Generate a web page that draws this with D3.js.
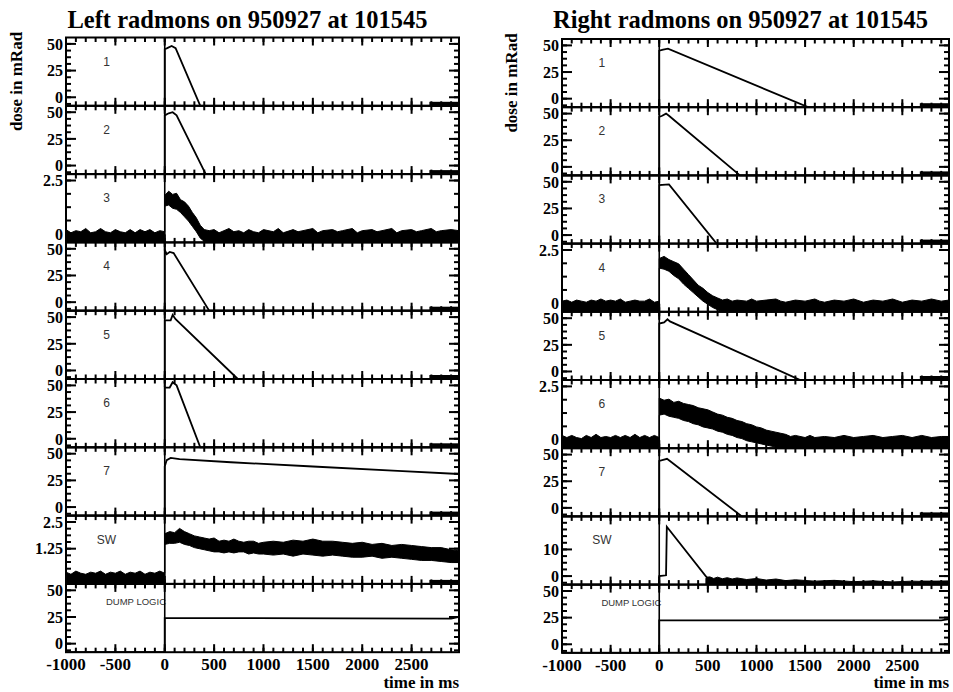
<!DOCTYPE html>
<html>
<head>
<meta charset="utf-8">
<script src="https://cdn.jsdelivr.net/npm/d3@7"></script>
<style>
  body { margin: 0; background: #fff; }
  svg { display: block; }
  line.tk { stroke: #000; stroke-width: 2px; }
</style>
</head>
<body>
<svg id="chart" width="953" height="692"></svg>
<script>
// panel names and time axis
const panelNames = ['1', '2', '3', '4', '5', '6', '7', 'SW', 'DUMP LOGIC'];
const timeDomain = [-1000, 2980];
const timeLabels = [-1000, -500, 0, 500, 1000, 1500, 2000, 2500];
const tailRange = [2680, 2980];

// y axes, left column
const leftMax = [50, 50, 2.5, 50, 50, 50, 50, 2.5, 50];
const leftTickLabels = [[0, 25, 50], [0, 25, 50], [0, 2.5], [0, 25, 50], [0, 25, 50], [0, 25, 50], [0, 25, 50], [1.25, 2.5], [0, 25, 50]];
const leftMinorStep = [6.25, 6.25, 0.625, 6.25, 6.25, 6.25, 6.25, 0.3125, 6.25];

// y axes, right column
const rightMax = [50, 50, 50, 2.5, 50, 2.5, 50, 20, 50];
const rightTickLabels = [[0, 25, 50], [0, 25, 50], [0, 25, 50], [0, 2.5], [0, 25, 50], [0, 2.5], [0, 25, 50], [0, 10], [0, 25, 50]];
const rightMinorStep = [6.25, 6.25, 6.25, 0.625, 6.25, 0.625, 6.25, 2.5, 6.25];

// traces [time ms, dose] -- values under the axis floor get clamped to the frame
const left1 = [[-1000, -10], [0, -10], [0, 45], [25, 46], [70, 48], [110, 46], [360, -8], [2980, -10]];
const left2 = [[-1000, -10], [0, -10], [0, 47], [40, 49], [80, 50], [120, 47], [415, -8], [2980, -10]];
const left4 = [[-1000, -10], [0, -10], [0, 49], [20, 45], [50, 47], [90, 46], [450, -8], [2980, -10]];
const left5 = [[-1000, -10], [0, -10], [0, 47], [60, 47], [80, 52], [110, 48], [740, -8], [2980, -10]];
const left6 = [[-1000, -10], [0, -10], [0, 48], [50, 48], [80, 53], [120, 50], [360, -8], [2980, -10]];
const left7 = [[-1000, -10], [0, -10], [0, 38], [20, 44], [60, 46], [150, 45], [670, 42], [1500, 38], [2360, 34], [2980, 31]];
const left9 = [[-1000, -10], [0, -10], [0, 24], [2900, 23.5], [2980, 25]];

const right1 = [[-1000, -10], [0, -10], [0, 45], [40, 46], [90, 47], [1530, -8], [2980, -10]];
const right2 = [[-1000, -10], [0, -10], [0, 47], [30, 48], [70, 50], [100, 48], [830, -8], [2980, -10]];
const right3 = [[-1000, -10], [0, -10], [0, 47], [100, 47.5], [590, -8], [2980, -10]];
const right5 = [[-1000, -10], [0, -10], [0, 45], [50, 46], [85, 49], [110, 47], [1450, -8], [2980, -10]];
const right7 = [[-1000, -10], [0, -10], [0, 44], [40, 45], [80, 46], [850, -8], [2980, -10]];
const right8 = [[-1000, -4], [0, -4], [0, 0], [70, 0.3], [78, 18.5], [500, -1], [540, -2]];
const right9 = [[-1000, -10], [0, -10], [0, 22.5], [2900, 22.5], [2980, 23.5]];

// noisy traces as bands [time ms, low, high]
const left3Band = [
  [-1000, -0.4, 0.2], [-950, -0.4, 0.05], [-900, -0.4, 0.15], [-850, -0.4, 0.1], [-800, -0.4, 0.25],
  [-750, -0.4, 0.05], [-700, -0.4, 0.1], [-650, -0.4, 0.25], [-600, -0.4, 0.1], [-550, -0.4, 0.05],
  [-500, -0.4, 0.2], [-450, -0.4, 0.1], [-400, -0.4, 0.05], [-350, -0.4, 0.2], [-300, -0.4, 0.05],
  [-250, -0.4, 0.2], [-200, -0.4, 0.1], [-150, -0.4, 0.2], [-100, -0.4, 0.05], [-50, -0.4, 0.15], [0, -0.4, 0.1],
  [0, 1.3, 1.8], [40, 1.35, 2.0], [80, 1.2, 1.85], [120, 1.15, 1.9], [160, 1.0, 1.6], [200, 0.8, 1.5],
  [240, 0.6, 1.3], [280, 0.35, 1.0], [320, 0.1, 0.75], [360, -0.2, 0.4], [400, -0.35, 0.2], [450, -0.4, 0.15],
  [500, -0.4, 0.2], [550, -0.4, 0.05], [600, -0.4, 0.15], [650, -0.4, 0.25], [700, -0.4, 0.1], [750, -0.4, 0.15],
  [800, -0.4, 0.05], [850, -0.4, 0.2], [900, -0.4, 0.1], [950, -0.4, 0.05], [1000, -0.4, 0.2], [1100, -0.4, 0.1],
  [1150, -0.4, 0.25], [1200, -0.4, 0.05], [1300, -0.4, 0.2], [1350, -0.4, 0.1], [1400, -0.4, 0.15], [1500, -0.4, 0.25],
  [1550, -0.4, 0.05], [1600, -0.4, 0.15], [1700, -0.4, 0.2], [1750, -0.4, 0.1], [1800, -0.4, 0.15], [1900, -0.4, 0.25],
  [1950, -0.4, 0.05], [2000, -0.4, 0.15], [2100, -0.4, 0.2], [2150, -0.4, 0.1], [2200, -0.4, 0.15], [2300, -0.4, 0.25],
  [2350, -0.4, 0.05], [2400, -0.4, 0.15], [2500, -0.4, 0.2], [2550, -0.4, 0.1], [2600, -0.4, 0.15], [2700, -0.4, 0.25],
  [2750, -0.4, 0.1], [2800, -0.4, 0.15], [2900, -0.4, 0.2], [2980, -0.4, 0.15]
];
const left8Band = [
  [-1000, -0.4, 0.15], [-950, -0.4, 0.05], [-900, -0.4, 0.2], [-850, -0.4, 0.1], [-800, -0.4, 0.05],
  [-750, -0.4, 0.15], [-700, -0.4, 0.1], [-650, -0.4, 0.2], [-600, -0.4, 0.05], [-550, -0.4, 0.15],
  [-500, -0.4, 0.1], [-450, -0.4, 0.2], [-400, -0.4, 0.05], [-350, -0.4, 0.15], [-300, -0.4, 0.1],
  [-250, -0.4, 0.2], [-200, -0.4, 0.05], [-150, -0.4, 0.15], [-100, -0.4, 0.1], [-50, -0.4, 0.2], [0, -0.4, 0.1],
  [0, 1.45, 1.95], [50, 1.5, 2.05], [100, 1.5, 2.0], [150, 1.55, 2.2], [200, 1.45, 2.05], [250, 1.4, 1.95],
  [300, 1.3, 1.85], [350, 1.25, 1.8], [400, 1.2, 1.75], [450, 1.15, 1.7], [500, 1.1, 1.75], [550, 1.1, 1.6],
  [600, 1.05, 1.65], [650, 1.1, 1.6], [700, 1.05, 1.7], [750, 1.1, 1.6], [800, 1.1, 1.55], [850, 1.0, 1.6],
  [900, 1.05, 1.6], [950, 1.0, 1.5], [1000, 1.0, 1.55], [1100, 0.95, 1.6], [1200, 1.0, 1.55], [1300, 0.9, 1.65],
  [1400, 1.0, 1.6], [1500, 0.95, 1.7], [1600, 0.9, 1.6], [1700, 0.95, 1.6], [1800, 0.9, 1.55], [1900, 0.85, 1.5],
  [2000, 0.85, 1.55], [2100, 0.9, 1.45], [2200, 0.8, 1.5], [2300, 0.85, 1.4], [2400, 0.8, 1.45], [2500, 0.75, 1.4],
  [2600, 0.7, 1.35], [2700, 0.7, 1.3], [2800, 0.65, 1.3], [2900, 0.6, 1.2], [2980, 0.6, 1.15]
];
const right4Band = [
  [-1000, -0.4, 0.1], [-950, -0.4, 0.15], [-900, -0.4, 0.05], [-850, -0.4, 0.15], [-800, -0.4, 0.1],
  [-750, -0.4, 0.05], [-700, -0.4, 0.15], [-650, -0.4, 0.1], [-600, -0.4, 0.2], [-550, -0.4, 0.1],
  [-500, -0.4, 0.15], [-450, -0.4, 0.1], [-400, -0.4, 0.2], [-350, -0.4, 0.05], [-300, -0.4, 0.1],
  [-250, -0.4, 0.15], [-200, -0.4, 0.1], [-150, -0.4, 0.1], [-100, -0.4, 0.2], [-50, -0.4, 0.05], [0, -0.4, 0.1],
  [0, 1.65, 2.1], [50, 1.6, 2.2], [100, 1.5, 2.05], [150, 1.3, 1.95], [200, 1.15, 1.85], [250, 0.9, 1.6],
  [300, 0.7, 1.35], [350, 0.5, 1.1], [400, 0.3, 0.85], [450, 0.1, 0.7], [500, -0.05, 0.5], [550, -0.2, 0.35],
  [600, -0.3, 0.25], [650, -0.4, 0.15], [700, -0.4, 0.2], [750, -0.4, 0.1], [800, -0.4, 0.15], [900, -0.4, 0.1],
  [950, -0.4, 0.2], [1000, -0.4, 0.1], [1100, -0.4, 0.15], [1200, -0.4, 0.2], [1250, -0.4, 0.1], [1300, -0.4, 0.05],
  [1400, -0.4, 0.15], [1500, -0.4, 0.1], [1600, -0.4, 0.2], [1650, -0.4, 0.1], [1700, -0.4, 0.05], [1800, -0.4, 0.15],
  [1900, -0.4, 0.1], [2000, -0.4, 0.2], [2100, -0.4, 0.05], [2200, -0.4, 0.15], [2300, -0.4, 0.1], [2400, -0.4, 0.2],
  [2500, -0.4, 0.05], [2600, -0.4, 0.15], [2700, -0.4, 0.1], [2800, -0.4, 0.2], [2900, -0.4, 0.1], [2980, -0.4, 0.15]
];
const right6Band = [
  [-1000, -0.4, 0.2], [-950, -0.4, 0.1], [-900, -0.4, 0.2], [-850, -0.4, 0.1], [-800, -0.4, 0.05],
  [-750, -0.4, 0.2], [-700, -0.4, 0.1], [-650, -0.4, 0.25], [-600, -0.4, 0.1], [-550, -0.4, 0.15],
  [-500, -0.4, 0.1], [-450, -0.4, 0.2], [-400, -0.4, 0.1], [-350, -0.4, 0.2], [-300, -0.4, 0.1],
  [-250, -0.4, 0.25], [-200, -0.4, 0.1], [-150, -0.4, 0.2], [-100, -0.4, 0.1], [-50, -0.4, 0.2], [0, -0.4, 0.1],
  [0, 1.15, 1.95], [50, 1.2, 1.85], [100, 1.1, 1.9], [150, 1.05, 1.75], [200, 1.0, 1.8], [250, 0.9, 1.7],
  [300, 0.85, 1.65], [350, 0.75, 1.6], [400, 0.7, 1.5], [450, 0.6, 1.45], [500, 0.55, 1.4], [550, 0.5, 1.3],
  [600, 0.4, 1.2], [650, 0.35, 1.15], [700, 0.25, 1.05], [750, 0.2, 1.0], [800, 0.1, 0.9], [850, 0.05, 0.85],
  [900, -0.05, 0.75], [950, -0.1, 0.7], [1000, -0.15, 0.6], [1050, -0.2, 0.55], [1100, -0.25, 0.45],
  [1150, -0.3, 0.4], [1200, -0.35, 0.35], [1250, -0.4, 0.3], [1300, -0.4, 0.25], [1350, -0.4, 0.15], [1400, -0.4, 0.2],
  [1500, -0.4, 0.1], [1550, -0.4, 0.2], [1600, -0.4, 0.1], [1700, -0.4, 0.15], [1800, -0.4, 0.1], [1900, -0.4, 0.2],
  [2000, -0.4, 0.1], [2100, -0.4, 0.15], [2200, -0.4, 0.2], [2300, -0.4, 0.1], [2400, -0.4, 0.15],
  [2500, -0.4, 0.2], [2600, -0.4, 0.1], [2700, -0.4, 0.2], [2800, -0.4, 0.1], [2900, -0.4, 0.15], [2980, -0.4, 0.15]
];
const right8Band = [
  [480, -3.2, -0.8], [520, -3.2, -0.3], [560, -3.2, -0.9], [600, -3.2, -0.4], [650, -3.2, -1.0], [700, -3.2, -0.6],
  [750, -3.2, -1.1], [800, -3.2, -0.7], [900, -3.2, -1.3], [1000, -3.2, -0.9], [1100, -3.2, -1.5], [1200, -3.2, -1.1],
  [1300, -3.2, -1.7], [1400, -3.2, -1.4], [1600, -3.2, -1.9], [1800, -3.2, -1.6], [2000, -3.2, -2.1], [2200, -3.2, -1.8],
  [2400, -3.2, -2.2], [2600, -3.2, -1.9], [2800, -3.2, -2.1], [2980, -3.2, -1.9]
];

const leftTraces = [left1, left2, null, left4, left5, left6, left7, null, left9];
const leftBands = [null, null, left3Band, null, null, null, null, left8Band, null];
const rightTraces = [right1, right2, right3, null, right5, null, right7, right8, right9];
const rightBands = [null, null, null, right4Band, null, right6Band, null, right8Band, null];

const svg = d3.select('#chart');
const serif = '"Liberation Serif", "Times New Roman", serif';

function drawColumn(cfg) {
  const x = d3.scaleLinear().domain(timeDomain).range([cfg.x0, cfg.x1]);
  const panelH = (cfg.bottom - cfg.top) / panelNames.length;
  const col = svg.append('g');

  // title
  col.append('text')
    .attr('x', (cfg.x0 + cfg.x1) / 2 - 15).attr('y', 28)
    .attr('text-anchor', 'middle')
    .style('font-family', serif).style('font-weight', 'bold').style('font-size', '24.5px')
    .text(cfg.title);

  // y axis title
  col.append('text')
    .attr('transform', `translate(${cfg.yTitleX},${cfg.top + 44}) rotate(-90)`)
    .attr('text-anchor', 'middle')
    .style('font-family', serif).style('font-weight', 'bold').style('font-size', '17px')
    .text('dose in mRad');

  const minorX = d3.range(-1000, 2981, 100);
  const majorX = minorX.filter(d => d % 500 === 0);

  panelNames.forEach((name, i) => {
    const top = cfg.top + i * panelH;
    const m = cfg.max[i];
    const y = d3.scaleLinear().domain([-0.16 * m, 1.12 * m]).range([panelH, 0]).clamp(true);
    const g = col.append('g').attr('transform', `translate(0,${top})`);
    const step = cfg.minor[i];
    const minorY = d3.range(Math.ceil(-0.16 * m / step), Math.floor(1.12 * m / step) + 1).map(k => k * step);
    const wide = name.length > 2;

    // panel label
    g.append('text')
      .attr('x', wide ? x(-595) : x(-590))
      .attr('y', wide ? 21 : 28)
      .attr('text-anchor', wide ? 'start' : 'middle')
      .style('font-family', '"Liberation Sans", Arial, sans-serif')
      .style('font-size', wide ? '9.5px' : '12px')
      .style('fill', '#333')
      .text(name);

    // noisy band
    if (cfg.bands[i]) {
      g.append('path')
        .datum(cfg.bands[i])
        .attr('d', d3.area().x(d => x(d[0])).y0(d => y(d[1])).y1(d => y(d[2])))
        .attr('fill', '#000').attr('stroke', '#000').attr('stroke-width', 1);
    }
    // trace
    if (cfg.traces[i]) {
      g.append('path')
        .datum(cfg.traces[i])
        .attr('d', d3.line().x(d => x(d[0])).y(d => y(d[1])))
        .attr('fill', 'none').attr('stroke', '#000').attr('stroke-width', 1.8);
    }
    // dense tail near the end of the record
    if (i < panelNames.length - 1) {
      g.append('rect')
        .attr('x', x(tailRange[0])).attr('y', panelH - 4)
        .attr('width', x(tailRange[1]) - x(tailRange[0])).attr('height', 4)
        .attr('fill', '#000');
    }

    // trigger line at t = 0
    g.append('line')
      .attr('x1', x(0)).attr('x2', x(0)).attr('y1', 0).attr('y2', panelH)
      .attr('stroke', '#000').attr('stroke-width', 1.6);

    // frame
    g.append('rect')
      .attr('x', cfg.x0).attr('y', 0).attr('width', cfg.x1 - cfg.x0).attr('height', panelH)
      .attr('fill', 'none').attr('stroke', '#000').attr('stroke-width', 2);

    // y ticks, pointing inward on both sides
    const ticks = g.append('g');
    [[minorY, 5], [cfg.labels[i], 10]].forEach(([vals, len]) => {
      vals.forEach(v => {
        ticks.append('line').attr('class', 'tk')
          .attr('x1', cfg.x0).attr('x2', cfg.x0 + len).attr('y1', y(v)).attr('y2', y(v));
        ticks.append('line').attr('class', 'tk')
          .attr('x1', cfg.x1).attr('x2', cfg.x1 - len).attr('y1', y(v)).attr('y2', y(v));
      });
    });

    // x ticks on top and bottom edges, pointing inward
    [[minorX, 4.5], [majorX, 8]].forEach(([vals, len]) => {
      vals.forEach(t => {
        ticks.append('line').attr('class', 'tk')
          .attr('x1', x(t)).attr('x2', x(t)).attr('y1', 0).attr('y2', len);
        ticks.append('line').attr('class', 'tk')
          .attr('x1', x(t)).attr('x2', x(t)).attr('y1', panelH).attr('y2', panelH - len);
      });
    });

    // y tick labels
    g.append('g')
      .selectAll('text')
      .data(cfg.labels[i])
      .join('text')
      .attr('x', cfg.x0 - 3)
      .attr('y', d => y(d))
      .attr('dy', '0.36em')
      .attr('text-anchor', 'end')
      .style('font-family', serif).style('font-weight', 'bold').style('font-size', '16px')
      .text(d => d);

    // time labels under the last panel
    if (i === panelNames.length - 1) {
      g.append('g')
        .selectAll('text')
        .data(timeLabels)
        .join('text')
        .attr('x', d => x(d))
        .attr('y', panelH + 18)
        .attr('text-anchor', 'middle')
        .style('font-family', serif).style('font-weight', 'bold').style('font-size', '17px')
        .text(d => d);
    }
  });

  // x axis title
  col.append('text')
    .attr('x', cfg.x1).attr('y', 688)
    .attr('text-anchor', 'end')
    .style('font-family', serif).style('font-weight', 'bold').style('font-size', '17px')
    .text('time in ms');
}

drawColumn({
  title: 'Left radmons on 950927 at 101545',
  x0: 66, x1: 459, top: 37.5, bottom: 652.2, yTitleX: 22,
  max: leftMax, labels: leftTickLabels, minor: leftMinorStep,
  traces: leftTraces, bands: leftBands
});
drawColumn({
  title: 'Right radmons on 950927 at 101545',
  x0: 562, x1: 949, top: 39, bottom: 652.8, yTitleX: 517,
  max: rightMax, labels: rightTickLabels, minor: rightMinorStep,
  traces: rightTraces, bands: rightBands
});
</script>
</body>
</html>
